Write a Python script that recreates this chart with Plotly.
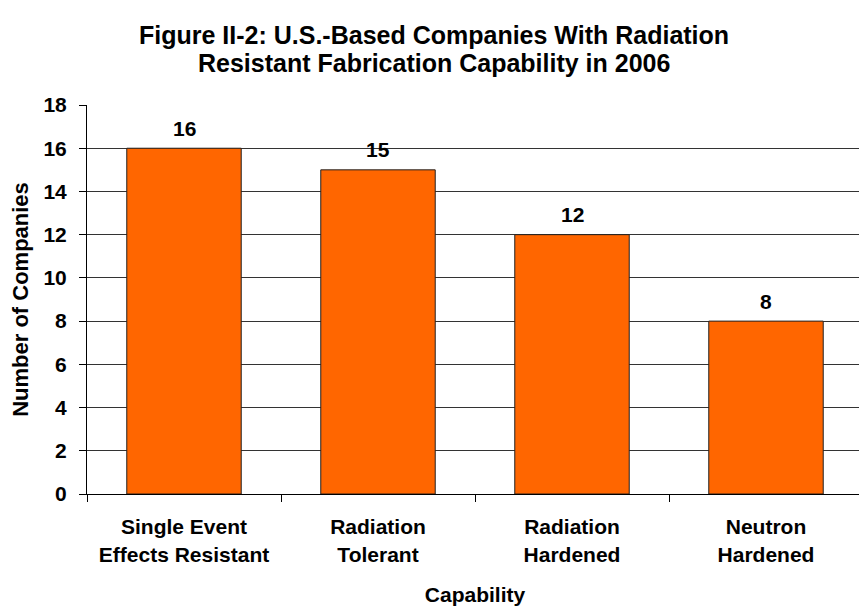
import plotly.graph_objects as go

# Data
categories = ["Single Event<br>Effects Resistant", "Radiation<br>Tolerant",
              "Radiation<br>Hardened", "Neutron<br>Hardened"]
companies = [16, 15, 12, 8]
y_ticks = [0, 2, 4, 6, 8, 10, 12, 14, 16, 18]
title_lines = ["Figure II-2: U.S.-Based Companies With Radiation",
               "Resistant Fabrication Capability in 2006"]

FONT = "Liberation Sans, Arial, sans-serif"

fig = go.Figure()

fig.add_trace(
    go.Bar(
        x=categories,
        y=companies,
        width=0.59,
        marker=dict(color="#FF6600", line=dict(color="#222222", width=1)),
        hoverinfo="x+y",
    )
)

# Value labels above the bars
for cat, val in zip(categories, companies):
    fig.add_annotation(
        x=cat, y=val, text=str(val), showarrow=False,
        yanchor="middle", yshift=20,
        font=dict(family=FONT, size=21, color="black", weight="bold"),
    )

# Title as two lines (tighter line spacing than Plotly's default title)
for line, ypos in zip(title_lines, [1.1800, 1.1080]):
    fig.add_annotation(
        text=line, xref="paper", yref="paper", x=0.447, y=ypos,
        xanchor="center", yanchor="middle", showarrow=False,
        font=dict(family=FONT, size=25, color="black", weight="bold"),
    )

fig.update_layout(
    width=867,
    height=607,
    font=dict(family=FONT, size=21, color="black", weight="bold"),
    plot_bgcolor="white",
    paper_bgcolor="white",
    showlegend=False,
    margin=dict(l=79, r=12, t=97, b=121),
    xaxis=dict(
        title=dict(text="Capability", font=dict(size=21, weight="bold"), standoff=22),
        automargin=False,
        showline=True,
        linecolor="black",
        linewidth=1,
        ticks="outside",
        tickson="boundaries",
        ticklen=7,
        tickcolor="black",
        showgrid=False,
        ticklabelstandoff=14,
        tickfont=dict(size=21, weight="bold"),
    ),
    yaxis=dict(
        title=dict(text="Number of Companies", font=dict(size=22, weight="bold"), standoff=17),
        automargin=False,
        range=[0, 18],
        tickvals=y_ticks,
        showline=True,
        linecolor="black",
        linewidth=1,
        ticks="outside",
        ticklen=7,
        tickcolor="black",
        ticklabelstandoff=8,
        showgrid=True,
        gridcolor="#333333",
        gridwidth=1,
        zeroline=False,
        tickfont=dict(size=21, weight="bold"),
    ),
)

fig.write_html("out.html")
